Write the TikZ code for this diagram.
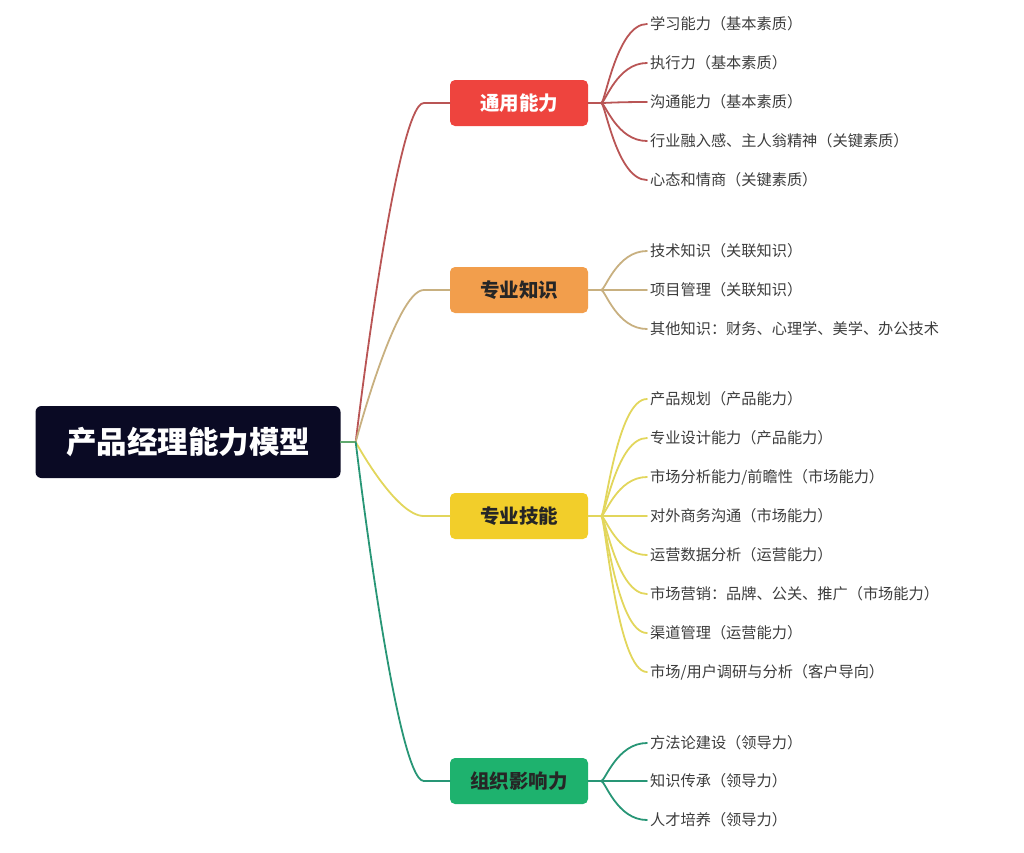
\documentclass[tikz,border=0pt]{standalone}
\usepackage{fontspec}
\usepackage{tikz}
\usetikzlibrary{positioning,calc}
\setmainfont{Noto Sans CJK SC}
\definecolor{ink}{RGB}{60,60,60}
\definecolor{rootbg}{RGB}{10,10,36}
\definecolor{redbox}{RGB}{238,68,62}
\definecolor{orangebox}{RGB}{242,158,76}
\definecolor{yellowbox}{RGB}{242,206,42}
\definecolor{greenbox}{RGB}{30,178,110}
\definecolor{redline}{RGB}{185,85,85}
\definecolor{orangeline}{RGB}{200,176,128}
\definecolor{yellowline}{RGB}{226,214,92}
\definecolor{greenline}{RGB}{40,150,118}

\begin{document}
\begin{tikzpicture}[x=1pt,y=-1pt,
  rootbox/.style={rectangle,rounded corners=6pt,fill=rootbg,text=white,font=\fontsize{30.5}{36}\selectfont\bfseries,minimum width=305pt,minimum height=72pt},
  catbox/.style={rectangle,rounded corners=5pt,font=\fontsize{19.5}{23}\selectfont\bfseries,minimum width=138pt,minimum height=46pt},
  leaf/.style={anchor=west,inner sep=3pt,text=ink,font=\fontsize{15.2}{18}\selectfont},
  link/.style={line width=1.8pt,line cap=round}
]
\useasboundingbox (0,0) rectangle (1024,852);

% root and categories
\node[rootbox] (root) at (188,442) {产品经理能力模型};
\node[catbox,fill=redbox,text=white] (tongyong) at (519,103) {通用能力};
\node[catbox,fill=orangebox,text=black!85] (zhishi) at (519,290) {专业知识};
\node[catbox,fill=yellowbox,text=black!85] (jineng) at (519,516) {专业技能};
\node[catbox,fill=greenbox,text=black!85] (yingxiang) at (519,781) {组织影响力};

% leaves
\node[leaf] (ty1) at (647,24) {学习能力（基本素质）};
\node[leaf] (ty2) at (647,63) {执行力（基本素质）};
\node[leaf] (ty3) at (647,102) {沟通能力（基本素质）};
\node[leaf] (ty4) at (647,141) {行业融入感、主人翁精神（关键素质）};
\node[leaf] (ty5) at (647,180) {心态和情商（关键素质）};

\node[leaf] (zs1) at (647,251) {技术知识（关联知识）};
\node[leaf] (zs2) at (647,290) {项目管理（关联知识）};
\node[leaf] (zs3) at (647,329) {其他知识：财务、心理学、美学、办公技术};

\node[leaf] (jn1) at (647,399) {产品规划（产品能力）};
\node[leaf] (jn2) at (647,438) {专业设计能力（产品能力）};
\node[leaf] (jn3) at (647,477) {市场分析能力/前瞻性（市场能力）};
\node[leaf] (jn4) at (647,516) {对外商务沟通（市场能力）};
\node[leaf] (jn5) at (647,555) {运营数据分析（运营能力）};
\node[leaf] (jn6) at (647,594) {市场营销：品牌、公关、推广（市场能力）};
\node[leaf] (jn7) at (647,633) {渠道管理（运营能力）};
\node[leaf] (jn8) at (647,672) {市场/用户调研与分析（客户导向）};

\node[leaf] (yx1) at (647,743) {方法论建设（领导力）};
\node[leaf] (yx2) at (647,781) {知识传承（领导力）};
\node[leaf] (yx3) at (647,820) {人才培养（领导力）};

% hubs
\coordinate (h0) at ([xshift=15pt]root.east);
\coordinate (hty) at ([xshift=13pt]tongyong.east);
\coordinate (hzs) at ([xshift=13pt]zhishi.east);
\coordinate (hjn) at ([xshift=13pt]jineng.east);
\coordinate (hyx) at ([xshift=13pt]yingxiang.east);

% root branches
\draw[link,greenline!70!yellowline] (root.east) -- (h0);
\draw[link,redline] (h0) .. controls (h0) and ([xshift=-54pt]tongyong.west) .. ([xshift=-26pt]tongyong.west) -- (tongyong.west);
\draw[link,orangeline] (h0) .. controls (h0) and ([xshift=-54pt]zhishi.west) .. ([xshift=-26pt]zhishi.west) -- (zhishi.west);
\draw[link,yellowline] (h0) .. controls (h0) and ([xshift=-54pt]jineng.west) .. ([xshift=-26pt]jineng.west) -- (jineng.west);
\draw[link,greenline] (h0) .. controls (h0) and ([xshift=-54pt]yingxiang.west) .. ([xshift=-26pt]yingxiang.west) -- (yingxiang.west);

% leaf branches
\draw[link,redline] (tongyong.east) -- (hty);
\foreach \i in {1,...,5}
  \draw[link,redline] (hty) .. controls ([xshift=4pt]hty) and ([xshift=-30pt]ty\i.west) .. (ty\i.west);
\draw[link,orangeline] (zhishi.east) -- (hzs);
\foreach \i in {1,...,3}
  \draw[link,orangeline] (hzs) .. controls ([xshift=4pt]hzs) and ([xshift=-30pt]zs\i.west) .. (zs\i.west);
\draw[link,yellowline] (jineng.east) -- (hjn);
\foreach \i in {1,...,8}
  \draw[link,yellowline] (hjn) .. controls ([xshift=4pt]hjn) and ([xshift=-30pt]jn\i.west) .. (jn\i.west);
\draw[link,greenline] (yingxiang.east) -- (hyx);
\foreach \i in {1,...,3}
  \draw[link,greenline] (hyx) .. controls ([xshift=4pt]hyx) and ([xshift=-30pt]yx\i.west) .. (yx\i.west);
\end{tikzpicture}
\end{document}
